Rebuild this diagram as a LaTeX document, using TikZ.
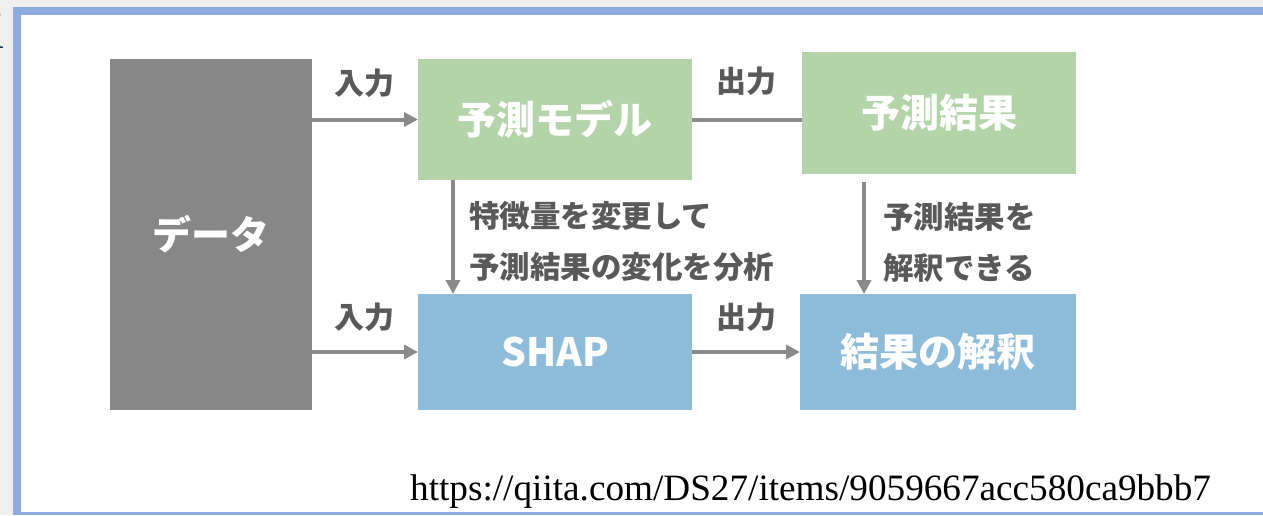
\documentclass[tikz,border=0pt]{standalone}
\usepackage{fontspec}
\newfontfamily\jp{Noto Sans CJK JP}
\newfontfamily\urlfont{Liberation Serif}
\usetikzlibrary{arrows.meta}
\definecolor{outbg}{HTML}{EFEFEF}
\definecolor{framec}{HTML}{8EABDD}
\definecolor{datac}{HTML}{878787}
\definecolor{greenc}{HTML}{B3D4A8}
\definecolor{bluec}{HTML}{8DBCDB}
\definecolor{arrowc}{HTML}{8A8A8A}
\definecolor{labc}{HTML}{595959}
\definecolor{navy}{HTML}{1F2F5F}
\tikzset{
  boxnode/.style={anchor=north west, inner sep=0pt, outer sep=0pt, text=white,
    font=\jp\bfseries\fontsize{39}{43}\selectfont},
  conn/.style={draw=arrowc, line width=4pt},
  arr/.style={conn, -{Triangle[length=14pt,width=14pt]}},
  lab/.style={text=labc, font=\jp\bfseries\fontsize{30}{34}\selectfont, inner sep=0pt},
  desc/.style={text=labc, font=\jp\bfseries\fontsize{30.5}{51}\selectfont, inner sep=0pt,
    anchor=west, align=left},
}
\begin{document}
\begin{tikzpicture}[x=1pt,y=-1pt]
\useasboundingbox (0,0) rectangle (1263,515);
% page background and frame
\fill[outbg] (0,0) rectangle (1263,515);
\fill[framec] (13,7) rectangle (1263,515);
\fill[white] (21,15) rectangle (1263,512);
\node[text=navy, font=\urlfont\fontsize{52}{56}\selectfont, anchor=base east, inner sep=0pt] (kfrag) at (4,48) {K};
% boxes
\node[boxnode, fill=datac, minimum width=202pt, minimum height=351pt] (data) at (110,59) {データ};
\node[boxnode, fill=greenc, minimum width=274pt, minimum height=121pt] (model) at (418,59) {予測モデル};
\node[boxnode, fill=greenc, minimum width=274pt, minimum height=122pt] (pred) at (802,52) {予測結果};
\node[boxnode, fill=bluec, minimum width=274pt, minimum height=116pt] (shap) at (418,294) {SHAP};
\node[boxnode, fill=bluec, minimum width=276pt, minimum height=116pt] (interp) at (800,294) {結果の解釈};
% connectors
\draw[arr] (data.east |- model.east) -- (model.east -| model.west);
\draw[conn] (model.east) -- (model.east -| pred.west);
\draw[arr] (data.east |- shap.east) -- (shap.west);
\draw[arr] (shap.east) -- (interp.west);
\coordinate (v1s) at ([xshift=35pt]model.south west);
\coordinate (v2s) at ([xshift=62pt,yshift=-8pt]pred.south west);
\draw[arr] (v1s) -- (v1s |- shap.north);
\draw[arr] (v2s) -- (v2s |- interp.north);
% labels
\node[lab] (in1) at (364,83) {入力};
\node[lab] (out1) at (746,81) {出力};
\node[lab] (in2) at (364,317) {入力};
\node[lab] (out2) at (746,317) {出力};
\node[desc] (d1) at (469,242) {特徴量を変更して\\予測結果の変化を分析};
\node[desc] (d2) at (883,242) {予測結果を\\解釈できる};
\node[font=\urlfont\fontsize{37.2}{40}\selectfont, anchor=base west, inner sep=0pt] (url) at (410,500) {https://qiita.com/DS27/items/9059667acc580ca9bbb7};
\end{tikzpicture}
\end{document}
